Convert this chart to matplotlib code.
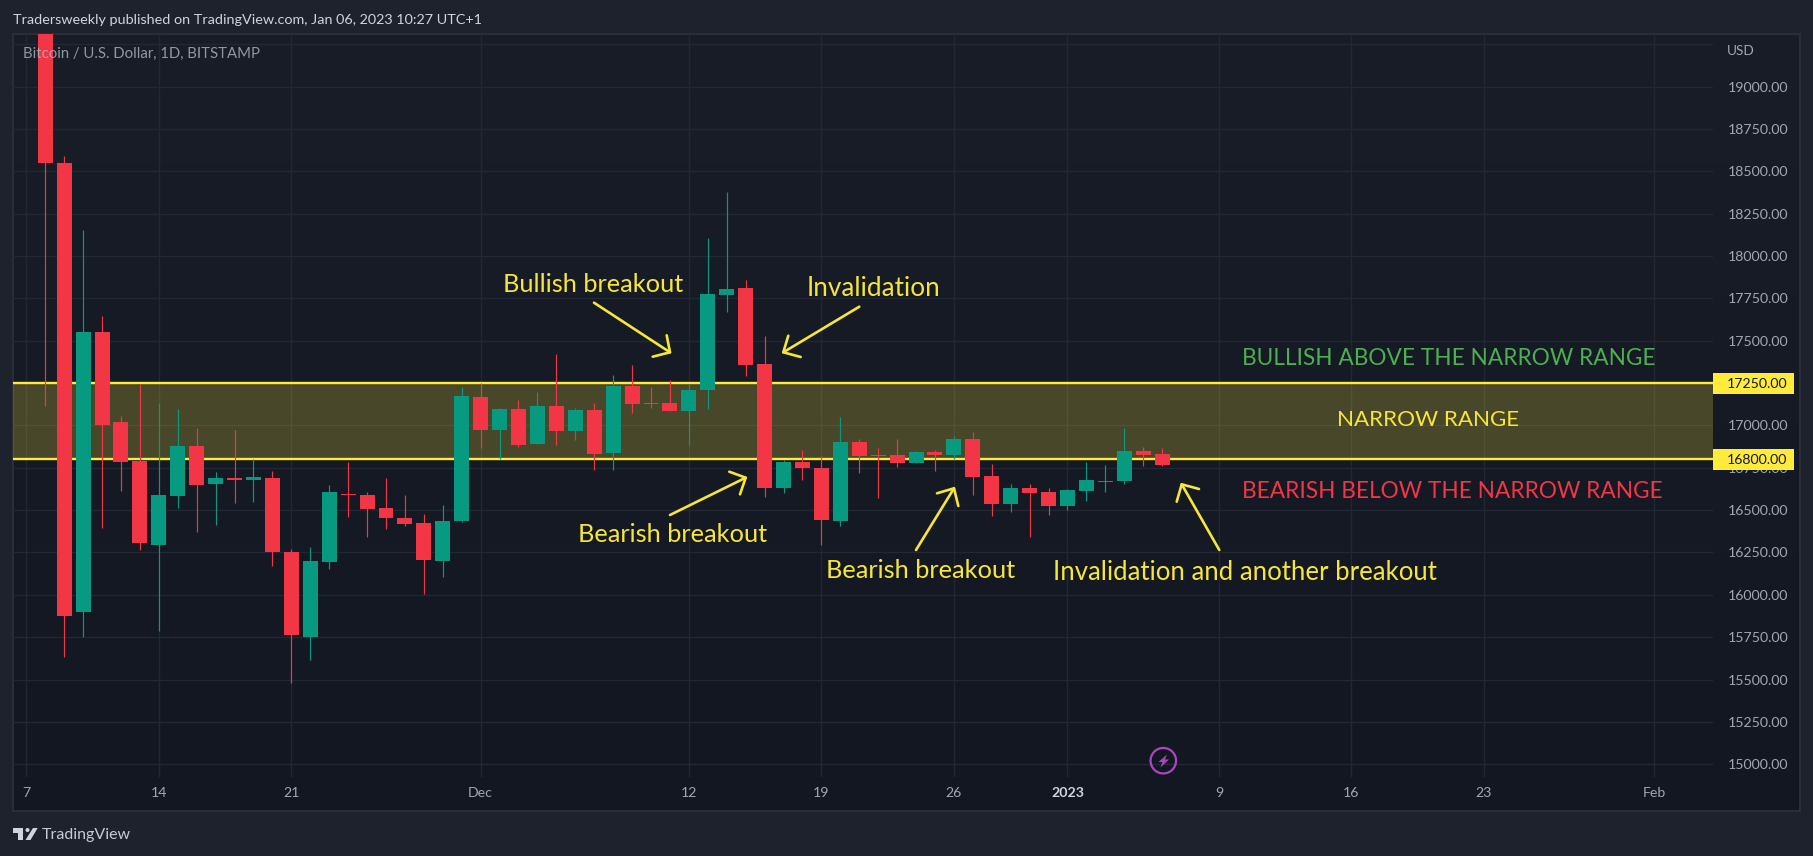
import numpy as np
import matplotlib
matplotlib.use("Agg")
import matplotlib.pyplot as plt
from matplotlib.patches import Rectangle, Polygon, Ellipse
from matplotlib.transforms import blended_transform_factory

# ---- data -------------------------------------------------------------
days = list(range(1, 61))  # days since 7 Nov 2022
opens = [20600, 18548, 15899, 17551, 17020, 16790, 16294, 16583, 16878, 16654,
         16690, 16678, 16690, 16253, 15751, 16194, 16595, 16589, 16512, 16453,
         16424, 16200, 16436, 17168, 16973, 17097, 16890, 17114, 16967, 17091,
         16837, 17233, 17132, 17132, 17085, 17209, 17770, 17811, 17362, 16631,
         16784, 16749, 16436, 16902, 16825, 16825, 16778, 16843, 16825, 16920,
         16701, 16536, 16631, 16607, 16524, 16613, 16666, 16672, 16849, 16831]
highs = [20680, 18590, 18153, 17646, 17055, 17244, 17132, 17097, 16985, 16725,
         16973, 16802, 16731, 16271, 16282, 16648, 16784, 16607, 16690, 16589,
         16477, 16530, 17227, 17250, 17103, 17150, 17197, 17421, 17103, 17132,
         17297, 17356, 17227, 17268, 17244, 18106, 18377, 17858, 17528, 16796,
         16855, 16819, 17050, 16920, 16867, 16920, 16849, 16855, 16937, 16961,
         16772, 16654, 16654, 16631, 16625, 16784, 16766, 16985, 16873, 16867]
lows = [17115, 15635, 15753, 16396, 16613, 16265, 15787, 16512, 16371, 16412,
        16542, 16548, 16170, 15480, 15615, 16152, 16459, 16341, 16389, 16406,
        16005, 16105, 16430, 16867, 16802, 16873, 16890, 16884, 16914, 16737,
        16737, 17073, 17103, 17085, 16884, 17097, 17669, 17292, 16577, 16601,
        16678, 16294, 16406, 16719, 16572, 16754, 16778, 16731, 16802, 16589,
        16465, 16489, 16341, 16471, 16501, 16554, 16607, 16654, 16760, 16760]
closes = [18548, 15877, 17551, 17002, 16784, 16306, 16589, 16878, 16648, 16690,
          16678, 16695, 16253, 15763, 16200, 16607, 16590, 16507, 16453, 16418,
          16206, 16436, 17173, 16973, 17097, 16884, 17114, 16967, 17091, 16831,
          17233, 17126, 17126, 17085, 17209, 17775, 17805, 17356, 16631, 16784,
          16749, 16442, 16902, 16819, 16819, 16778, 16843, 16825, 16920, 16696,
          16536, 16631, 16601, 16524, 16619, 16678, 16672, 16849, 16825, 16766]

price_ticks = [15000, 15250, 15500, 15750, 16000, 16250, 16500, 16750, 17000,
               17250, 17500, 17750, 18000, 18250, 18500, 18750, 19000, 19250]
price_labels = ["15000.00", "15250.00", "15500.00", "15750.00", "16000.00", "16250.00",
                "16500.00", "16750.00", "17000.00", "17250.00", "17500.00", "17750.00",
                "18000.00", "18250.00", "18500.00", "18750.00", "19000.00", ""]
time_ticks = [0, 7, 14, 24, 35, 42, 49, 55, 63, 70, 77, 86]
time_labels = ["7", "14", "21", "Dec", "12", "19", "26", "2023", "9", "16", "23", "Feb"]
range_high = 17250
range_low = 16800

# ---- style ------------------------------------------------------------
W, H = 1813, 856
FONT = "Lato"
plt.rcParams["font.family"] = [FONT, "DejaVu Sans"]
OUTER = "#1e222d"
BORDER = "#2a2e39"
GRID = "#232733"
UP = "#089981"
DOWN = "#f23645"
YEL = "#ffeb3b"
ANN = "#f7e63a"
AXT = "#a3a6af"

fig = plt.figure(figsize=(W / 100, H / 100), dpi=100, facecolor=OUTER)


def px_axes(l, t, r, b, **kw):
    return fig.add_axes([l / W, 1 - b / H, (r - l) / W, (b - t) / H], **kw)


# pane background with its soft vertical gradient
bg = px_axes(13, 34, 1800, 811, zorder=0)
top, bot = np.array([25, 29, 40]) / 255, np.array([19, 23, 34]) / 255
grad = np.linspace(0, 1, 256)[:, None, None] * (bot - top) + top
bg.imshow(grad, aspect="auto", extent=(0, 1, 0, 1))
bg.set_xticks([]); bg.set_yticks([])
for s in bg.spines.values():
    s.set_color(BORDER); s.set_linewidth(1.5)

# main pane
ax = px_axes(13, 34, 1713, 777, zorder=2)
ax.patch.set_alpha(0)
ax.set_xlim(-0.703, 89.1)
ax.set_ylim(14925, 19310)
for s in ax.spines.values():
    s.set_visible(False)
ax.yaxis.tick_right()
ax.set_yticks(price_ticks, price_labels)
ax.set_xticks(time_ticks, time_labels)
ax.tick_params(axis="y", length=0, pad=10.3, labelsize=10.2, colors=AXT)
ax.tick_params(axis="x", length=0, pad=7.5, labelsize=10.2, colors=AXT)
ax.get_xticklabels()[7].set_fontweight("bold")
ax.get_xticklabels()[7].set_color("#d1d4dc")
ax.grid(True, color=GRID, lw=1.0, zorder=0)
ax.set_axisbelow(True)

# narrow range
ax.axhspan(range_low, range_high, color=YEL, alpha=0.22, lw=0, zorder=1)
ax.axhline(range_high, color=YEL, lw=1.7, zorder=2)
ax.axhline(range_low, color=YEL, lw=1.7, zorder=2)

# candles
for d, o, h, l, c in zip(days, opens, highs, lows, closes):
    col = UP if c >= o else DOWN
    ax.vlines(d, l, h, color=col, lw=0.85, zorder=3)
    lo, hi = min(o, c), max(o, c)
    ax.bar(d, max(hi - lo, 6), bottom=lo, width=0.79, color=col, lw=0, zorder=4)

# price tags
tr = blended_transform_factory(ax.transAxes, ax.transData)
for v in (range_high, range_low):
    ax.add_patch(Rectangle((1.0, v - 62), 81 / 1700, 124, transform=tr, color=YEL, lw=0,
                           clip_on=False, zorder=6))
    ax.text(1.0 + 74 / 1700, v, f"{v}.00", transform=tr, ha="right", va="center_baseline",
            fontsize=10.2, color="#131722", zorder=7, clip_on=False)

# overlay in pixel coordinates: texts, arrows and branding
ov = px_axes(0, 0, W, H, zorder=5)
ov.set_xlim(0, W); ov.set_ylim(H, 0); ov.axis("off"); ov.patch.set_alpha(0)


def label(x, y, s, color=ANN, size=18, ha="left", **kw):
    ov.text(x, y, s, color=color, fontsize=size, ha=ha, va="center", **kw)


label(13, 20, "Tradersweekly published on TradingView.com, Jan 06, 2023 10:27 UTC+1",
      color="#d1d4dc", size=10.4)
label(23, 54, "Bitcoin / U.S. Dollar, 1D, BITSTAMP", color="#b2b5be", size=10.7, alpha=0.8)
label(1727, 51, "USD", color=AXT, size=9.8)
label(42, 835, "TradingView", color="#c8cbd2", size=11.5)

label(503, 284, "Bullish breakout", size=18.3)
label(807, 289, "Invalidation", size=18.8)
label(578, 535, "Bearish breakout", size=18.3)
label(826, 570, "Bearish breakout", size=18.3)
label(1053, 573, "Invalidation and another breakout", size=18.5)
label(1337, 420, "NARROW RANGE", size=16.1)
label(1242, 358, "BULLISH ABOVE THE NARROW RANGE", color="#4caf50", size=16.3)
label(1242, 491, "BEARISH BELOW THE NARROW RANGE", color="#f23645", size=16.3)


def arrow(tail, tip, b1, b2):
    kw = dict(color=ANN, lw=1.9, solid_capstyle="round", solid_joinstyle="round")
    ov.plot([tail[0], tip[0]], [tail[1], tip[1]], **kw)
    ov.plot([b1[0], tip[0], b2[0]], [b1[1], tip[1], b2[1]], **kw)


arrow((594, 302.7), (670, 352.3), (652.7, 356.7), (666.7, 335.3))
arrow((859.3, 306.7), (783.3, 352.3), (800.7, 357), (788.3, 335.7))
arrow((670, 515), (745.7, 477.7), (729.3, 471.7), (740, 494.3))
arrow((916, 550), (954, 488.3), (937, 493.3), (958.3, 506))
arrow((1219.3, 550), (1181.7, 484.3), (1199, 489), (1176.7, 501.7))

# lightning badge
PUR = "#ab47bc"
ov.add_patch(Ellipse((1163.3, 760.7), 25.5, 25.5, fill=False, ec=PUR, lw=1.6))
ov.add_patch(Polygon([(1167, 754.5), (1158.5, 762), (1162.5, 762), (1160.5, 767.5),
                      (1169, 759.5), (1165, 759.5)], closed=True, fc=PUR, ec="none"))

# TradingView logo
LOGO = "#d1d4dc"
ov.add_patch(Polygon([(13, 828), (23, 828), (23, 840), (17.5, 840), (17.5, 833), (13, 833)],
                     closed=True, fc=LOGO, ec="none"))
ov.add_patch(Ellipse((27.5, 830), 4, 4, fc=LOGO, ec="none"))
ov.add_patch(Polygon([(33, 828), (37.7, 828), (30.5, 840), (25.5, 840)], closed=True,
                     fc=LOGO, ec="none"))

fig.savefig("out.png", dpi=100, facecolor=OUTER)
